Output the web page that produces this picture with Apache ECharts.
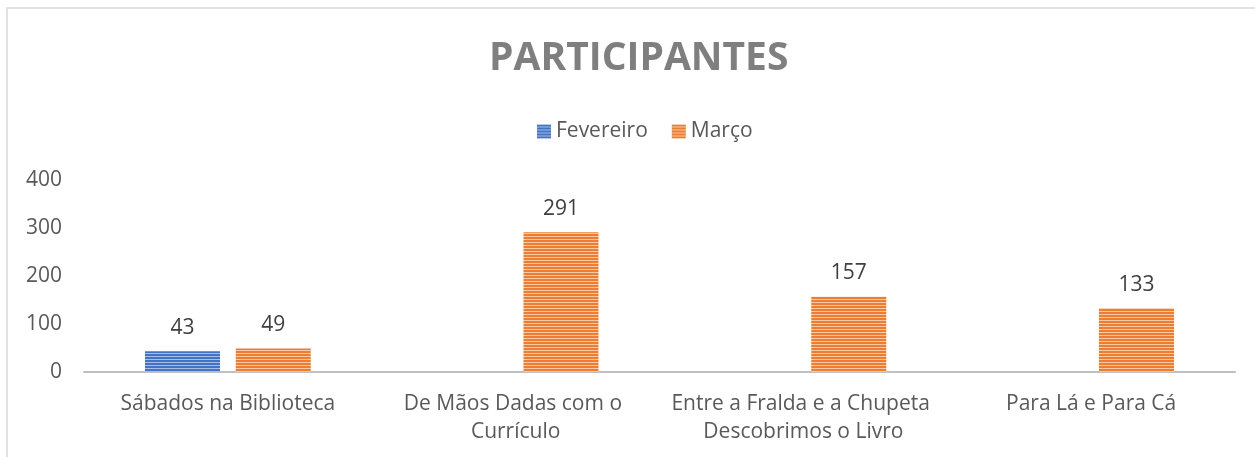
<!DOCTYPE html>
<html>
<head>
<meta charset="utf-8">
<script src="https://cdn.jsdelivr.net/npm/echarts@6/dist/echarts.min.js"></script>
<style>
html,body{margin:0;padding:0;background:#fff;}
#main{width:1255px;height:457px;}
</style>
</head>
<body>
<div id="main"></div>
<script>
var categories = ['Sábados na Biblioteca', 'De Mãos Dadas com o Currículo', 'Entre a Fralda e a Chupeta Descobrimos o Livro', 'Para Lá e Para Cá'];
var fevereiro = [43, null, null, null];
var marco = [49, 291, 157, 133];
var yTicks = [0, 100, 200, 300, 400];

//listras horizontais
function stripes(base, light){
    var c = document.createElement('canvas');
    c.width = 4;
    c.height = 3;
    var ctx = c.getContext('2d');
    ctx.fillStyle = base;
    ctx.fillRect(0, 0, 4, 3);
    ctx.fillStyle = light;
    ctx.fillRect(0, 2, 4, 1);
    return {image: c, repeat: 'repeat'};
}

var font = 'Open Sans';
var myChart = echarts.init(document.getElementById('main'));
var option = {
    animation: false,
    title: {
        text: 'PARTICIPANTES',
        left: 484,
        top: 34,
        textStyle: {
            color: '#7f7f7f',
            fontSize: 39,
            fontWeight: 'bold',
            fontFamily: font
        }
    },
    legend: {
        top: 116,
        left: 532,
        itemWidth: 14,
        itemHeight: 14,
        itemGap: 24,
        icon: 'rect',
        textStyle: {
            color: '#595959',
            fontSize: 21,
            fontFamily: font
        },
        data: ['Fevereiro', 'Março']
    },
    graphic: [{
        type: 'rect',
        shape: {x: 7, y: 8, width: 1400, height: 600},
        style: {fill: 'none', stroke: '#d9d9d9', lineWidth: 1.5},
        silent: true
    }],
    grid: {
        left: 84,
        right: 20,
        top: 180,
        bottom: 85
    },
    xAxis: {
        type: 'category',
        data: categories,
        axisLine: {lineStyle: {color: '#bfbfbf', width: 2}},
        axisTick: {show: false},
        axisLabel: {
            color: '#595959',
            fontSize: 21,
            fontFamily: font,
            margin: 18,
            width: 280,
            overflow: 'break',
            lineHeight: 28,
            interval: 0
        }
    },
    yAxis: {
        type: 'value',
        min: yTicks[0],
        max: yTicks[yTicks.length - 1],
        interval: 100,
        splitLine: {show: false},
        axisLine: {show: false},
        axisTick: {show: false},
        axisLabel: {
            color: '#595959',
            fontSize: 21,
            fontFamily: font,
            margin: 22
        }
    },
    series: [
        {
            name: 'Fevereiro',
            type: 'bar',
            barWidth: 75,
            barGap: '21%',
            itemStyle: {color: stripes('#4472c4', '#a9bee6')},
            label: {
                show: true,
                position: 'top',
                distance: 13,
                color: '#404040',
                fontSize: 21,
                fontFamily: font
            },
            data: fevereiro
        },
        {
            name: 'Março',
            type: 'bar',
            barWidth: 75,
            barGap: '21%',
            itemStyle: {color: stripes('#ed7d31', '#f8c8a6')},
            label: {
                show: true,
                position: 'top',
                distance: 13,
                color: '#404040',
                fontSize: 21,
                fontFamily: font
            },
            data: marco
        }
    ]
};
myChart.setOption(option);
</script>
</body>
</html>
